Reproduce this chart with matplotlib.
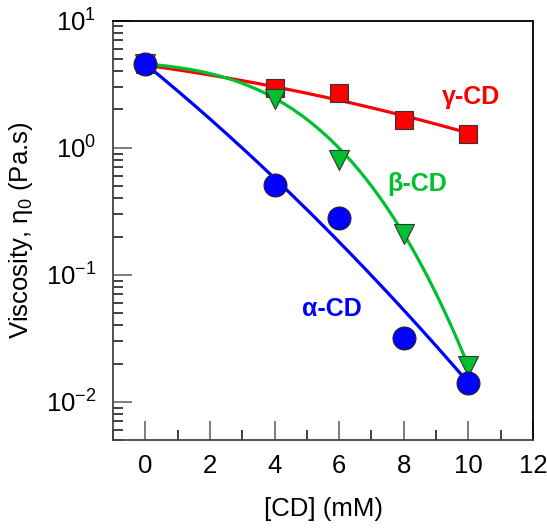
import numpy as np
import matplotlib
matplotlib.use('Agg')
import matplotlib.pyplot as plt
from matplotlib.ticker import MultipleLocator, LogLocator, FixedLocator

plt.rcParams['font.family'] = ['Liberation Sans', 'DejaVu Sans']
plt.rcParams['mathtext.fontset'] = 'custom'
plt.rcParams['mathtext.rm'] = 'Liberation Sans'
plt.rcParams['mathtext.it'] = 'Liberation Sans:italic'

## data
## =========================================== ##
cd_mM      = [0, 4, 6, 8, 10]
alpha_eta  = [4.56, 0.507, 0.279, 0.0319, 0.0141]
beta_eta   = [4.56, 2.42, 0.805, 0.209, 0.0191]
gamma_eta  = [4.56, 2.95, 2.70, 1.65, 1.28]

## fitted curves: log10(eta) = c0 + c1*x + c2*x^2 + c3*x^3
alpha_fit  = [0.659, -0.2074, -0.00435, 0.0]
beta_fit   = [0.66, -0.02217, -0.0045, -0.001708]
gamma_fit  = [0.65, -0.0351, -0.00183, 0.0]

labels     = ['\u03b1-CD', '\u03b2-CD', '\u03b3-CD']
label_pos  = [(5.78, 0.0534), (8.42, 0.517), (10.07, 2.51)]
colors     = ['#0000ff', '#00c030', '#ff0000']

def curve(coef, x):
    return 10 ** (coef[0] + coef[1]*x + coef[2]*x**2 + coef[3]*x**3)

fig = plt.figure(figsize=(5.47, 5.29), dpi=100)
ax  = fig.add_axes([0.2066, 0.1682, 0.7678, 0.7927])

xs  = np.linspace(0, 10, 200)
ax.plot(xs, curve(gamma_fit, xs), color=colors[2], lw=2.3, zorder=2)
ax.plot(xs, curve(beta_fit, xs), color=colors[1], lw=2.3, zorder=2)
ax.plot(xs, curve(alpha_fit, xs), color=colors[0], lw=2.3, zorder=2)

ax.plot(cd_mM, gamma_eta, 's', ms=13.5, mfc=colors[2], mec='#333333', mew=0.8, ls='none', zorder=3)
ax.plot(cd_mM, beta_eta, 'v', ms=15, mfc='#00c030', mec='#333333', mew=0.8, ls='none', zorder=4)
ax.plot(cd_mM, alpha_eta, 'o', ms=16.5, mfc=colors[0], mec='#222222', mew=0.8, ls='none', zorder=5)

for lab, (lx, ly), c in zip(labels, label_pos, colors):
    ax.text(lx, ly, lab, color=c, fontsize=18, fontweight='bold', ha='center', va='center')

ax.set_yscale('log')
ax.set_xlim(-1, 12)
ax.set_ylim(0.005, 10)

ax.xaxis.set_major_locator(MultipleLocator(2))
ax.xaxis.set_minor_locator(MultipleLocator(1))
ax.yaxis.set_major_locator(FixedLocator([0.01, 0.1, 1, 10]))
ax.yaxis.set_minor_locator(LogLocator(base=10, subs=np.arange(2, 10)))
ax.set_yticklabels(['10$^{\\mathregular{-2}}$', '10$^{\\mathregular{-1}}$',
                    '10$^{\\mathregular{0}}$', '10$^{\\mathregular{1}}$'])

ax.tick_params(which='both', direction='in', top=False, right=False, labelsize=18.5)
ax.tick_params(axis='x', which='major', pad=10)
ax.tick_params(axis='y', which='major', pad=12)
ax.tick_params(which='major', length=14, width=1.2, color='#666666')
ax.tick_params(which='minor', length=7, width=1.2, color='#222222')

for sp in ax.spines.values():
    sp.set_linewidth(1.3)
ax.spines['left'].set_color('#444444')
ax.spines['bottom'].set_color('#444444')

ax.set_xlabel('[CD] (mM)', fontsize=18.5, labelpad=14)
ax.set_ylabel('Viscosity, \u03b7$_{\\mathregular{0}}$ (Pa.s)', fontsize=18.5, labelpad=8)

fig.savefig('out.png', dpi=100)
